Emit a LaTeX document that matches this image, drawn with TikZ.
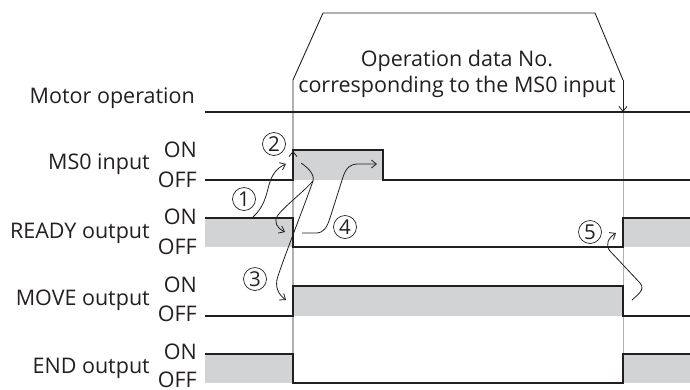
\documentclass[tikz,border=0pt]{standalone}
\usepackage{fontspec}
\setmainfont{Open Sans}
\usetikzlibrary{arrows.meta}
\definecolor{sig}{HTML}{231F20}
\definecolor{fillg}{HTML}{D1D3D4}
\begin{document}
\begin{tikzpicture}[x=1pt,y=-1pt,
  font=\fontsize{21.5}{25}\selectfont,
  sigline/.style={line width=1.1pt, draw=sig, line join=miter},
  thinline/.style={line width=0.9pt, draw=sig},
  arr/.style={line width=0.8pt, draw=sig, -{Straight Barb[length=5pt,width=8pt]}},
  num/.style={circle, draw=sig, line width=0.7pt, minimum size=23pt, inner sep=0pt, text=sig, font=\fontsize{20.5}{20.5}\selectfont},
  lbl/.style={anchor=east, inner sep=0pt, text=sig},
  onoff/.style={anchor=east, inner sep=0pt, text=sig},
  ]
\useasboundingbox (0,0) rectangle (690,389);

% fills
\fill[fillg] (293,150) rectangle (383,180);
\fill[fillg] (205,218) rectangle (293,247);
\fill[fillg] (623,218) rectangle (690,247);
\fill[fillg] (293,286) rectangle (623,316);
\fill[fillg] (205,354) rectangle (293,383);
\fill[fillg] (623,354) rectangle (690,383);

% guide line
\draw[gray!60, line width=0.6pt] (623,112) -- (623,383);

% motor operation
\draw[sigline] (205,112) -- (690,112);
\draw[thinline] (293,383) -- (293,80) -- (323,13) -- (595,13) -- (623,80);
\coordinate (mright) at (623,112);
\draw[arr] (623,80) -- (mright);

% signals
\draw[sigline] (205,180) -- (293,180) -- (293,150) -- (383,150) -- (383,180) -- (690,180);
\draw[sigline] (205,218) -- (293,218) -- (293,247) -- (623,247) -- (623,218) -- (690,218);
\draw[sigline] (205,316) -- (293,316) -- (293,286) -- (623,286) -- (623,316) -- (690,316);
\draw[sigline] (205,354) -- (293,354) -- (293,383) -- (623,383) -- (623,354) -- (690,354);

% labels
\node[lbl] (lmotor) at (195,98) {Motor operation};
\node[lbl] (lms0) at (150,164) {MS0 input};
\node[lbl] (lready) at (150,233) {READY output};
\node[lbl] (lmove) at (150,300) {MOVE output};
\node[lbl] (lend) at (150,368) {END output};
\node[onoff] (on1) at (197,150) {ON};
\node[onoff] (off1) at (197,180) {OFF};
\node[onoff] (on2) at (197,217) {ON};
\node[onoff] (off2) at (197,247) {OFF};
\node[onoff] (on3) at (197,285) {ON};
\node[onoff] (off3) at (197,314) {OFF};
\node[onoff] (on4) at (197,352) {ON};
\node[onoff] (off4) at (197,380) {OFF};

\node[anchor=base, inner sep=0pt, text=sig] (t1) at (457,66) {Operation data No.};
\node[anchor=base, inner sep=0pt, text=sig] (t2) at (457,92) {corresponding to the MS0 input};

% circled numbers
\node[num] (n1) at (244,199) {1};
\node[num] (n2) at (274,144) {2};
\node[num] (n3) at (255,279) {3};
\node[num] (n4) at (345,227) {4};
\node[num] (n5) at (590,232) {5};

% arrows
\draw[arr] (253,217) .. controls (264,207) and (266,196) .. (269,185) .. controls (272,174) and (277,168) .. (286,164);
\draw[arr] (293,160) -- (293,151);
\coordinate (hk) at (313,181);
\draw[arr] (301,163) .. controls (307,167) and (315,174) .. (hk) .. controls (300,195) and (286,205) .. (278,215) .. controls (273,222) and (277,228) .. (285,232);
\draw[arr] (hk) .. controls (302,212) and (286,252) .. (278,276) .. controls (274,287) and (279,295) .. (286,300);
\draw[arr] (302,233) -- (316,233) .. controls (324,233) and (327,227) .. (330,218) -- (343,177) .. controls (346,168) and (350,164) .. (358,164) -- (377,164);
\draw[arr] (632,300) .. controls (637,295) and (646,290) .. (640,283) -- (610,251) .. controls (605,245) and (608,238) .. (616,233);
\end{tikzpicture}
\end{document}
